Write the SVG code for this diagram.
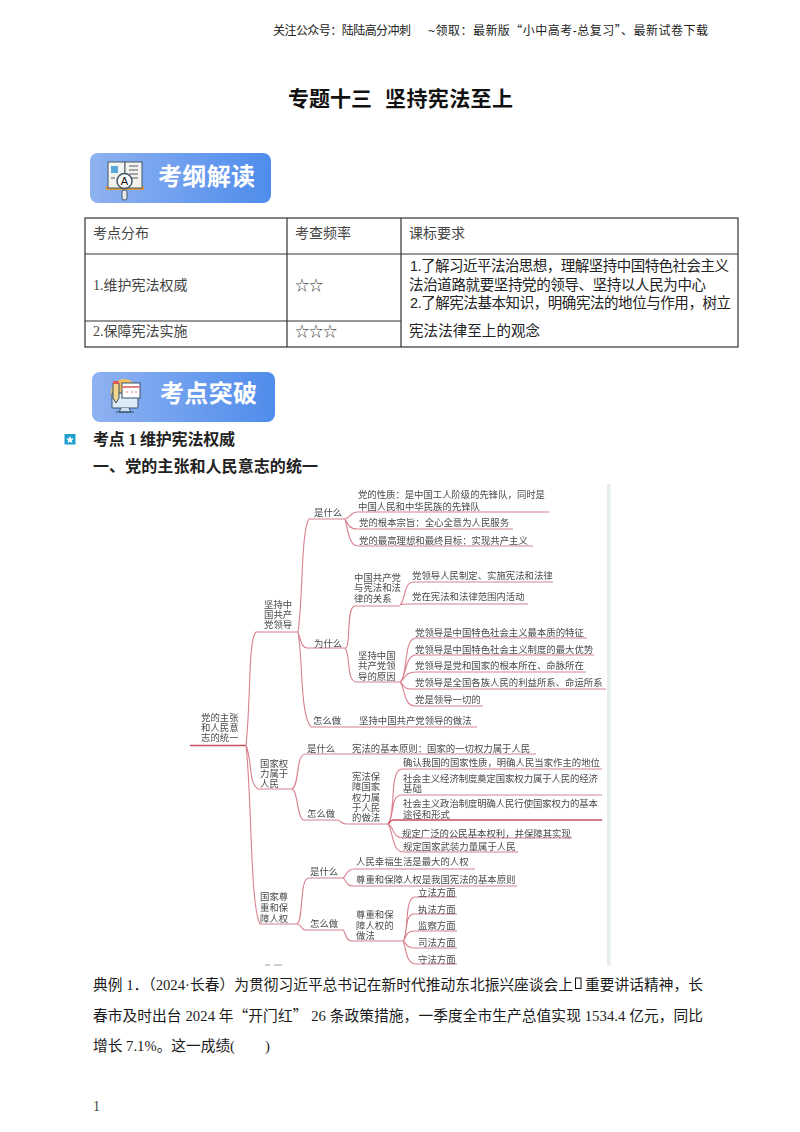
<svg xmlns="http://www.w3.org/2000/svg" width="800" height="1132" viewBox="0 0 800 1132">
<style>
text{font-family:"Liberation Serif","Noto Sans CJK SC",serif;fill:#111}
.s{font-family:"Liberation Sans","Noto Sans CJK SC",sans-serif}
.q{font-family:"Noto Sans CJK SC",sans-serif}
.hd{font-size:12px;fill:#222}
.t{font-size:14px;fill:#444}
.r{font-size:14.5px;fill:#222}
.b{font-size:14.7px;fill:#1a1a1a}
.h{font-size:16px;font-weight:700;fill:#222}
.bn{font-family:"Liberation Sans","Noto Sans CJK SC",sans-serif;font-size:24px;font-weight:700;fill:#fff}
.m{font-size:9.4px;fill:#4a4a4a}
.tb{fill:none;stroke:#333;stroke-width:1.2}
.l{fill:none;stroke:#d8808e;stroke-width:1.1}
.d{fill:none;stroke:#c8505f;stroke-width:1.3}
</style>
<defs>
<linearGradient id="g" x1="0" y1="0" x2="1" y2="0"><stop offset="0" stop-color="#8fb2f1"/><stop offset="1" stop-color="#4f8cec"/></linearGradient>
<filter id="bl" x="-2%" y="-2%" width="104%" height="104%"><feGaussianBlur stdDeviation="0.25"/></filter>
</defs>
<rect width="800" height="1132" fill="#fff"/>
<g id="header"><text class="s hd" x="273" y="35" textLength="138">关注公众号：陆陆高分冲刺</text><text class="s hd" x="428" y="35" textLength="280">~领取：最新版<tspan class="q">“</tspan>小中高考-总复习<tspan class="q">”</tspan>、最新试卷下载</text></g>
<g id="title"><text class="s" x="288" y="106" font-size="21" font-weight="700" fill="#222">专题十三</text><text class="s" x="385" y="106" font-size="21" font-weight="700" fill="#222" textLength="128">坚持宪法至上</text></g>
<g id="banner1">
<rect x="90" y="153" width="181" height="50" rx="8" fill="url(#g)"/>
<rect x="106" y="186" width="38" height="4" fill="#d99a3c"/>
<rect x="108" y="162" width="17" height="26" fill="#f4f4ee" stroke="#44566a"/>
<rect x="125" y="162" width="17" height="26" fill="#f4f4ee" stroke="#44566a"/>
<rect x="111" y="166" width="7" height="7" fill="#5aa7dc"/>
<path d="M129 166h9M129 170h9M129 174h9M129 178h9M111 178h4" stroke="#556" fill="none"/>
<rect x="122" y="190" width="5" height="10" rx="2" fill="#e8e8e8" stroke="#44566a"/>
<circle cx="124.500" cy="181" r="7.500" fill="#fff" stroke="#44566a" stroke-width="1.500"/>
<text class="s" x="124.500" y="185" font-size="11" text-anchor="middle" fill="#333">A</text>
<text class="bn" x="158" y="185" textLength="97">考纲解读</text>
</g>
<g id="table">
<rect class="tb" x="85" y="218" width="653" height="129"/>
<path class="tb" d="M287 218V347M401 218V347M85 254H738M85 321H401"/>
<text class="t" x="93" y="238">考点分布</text>
<text class="t" x="295" y="238">考查频率</text>
<text class="t" x="409" y="238">课标要求</text>
<text class="t" x="93" y="290">1.维护宪法权威</text>
<text class="t" x="295" y="290" font-family="DejaVu Sans">☆☆</text>
<text class="t" x="93" y="336">2.保障宪法实施</text>
<text class="t" x="295" y="336" font-family="DejaVu Sans">☆☆☆</text>
<text class="s r" x="410" y="271" textLength="319">1.了解习近平法治思想，理解坚持中国特色社会主义</text>
<text class="s r" x="409" y="290" textLength="297">法治道路就要坚持党的领导、坚持以人民为中心</text>
<text class="s r" x="410" y="308" textLength="321">2.了解宪法基本知识，明确宪法的地位与作用，树立</text>
<text class="s r" x="409" y="336" textLength="131">宪法法律至上的观念</text>
</g>
<g id="banner2">
<rect x="92" y="372" width="183" height="50" rx="8" fill="url(#g)"/>
<circle cx="124" cy="392" r="13" fill="#f0c060"/>
<rect x="112" y="393" width="26" height="15" rx="1" fill="#dcecf6" stroke="#34506a"/>
<path d="M121 408l-2 4h12l-2-4M116 412h18" stroke="#34506a" fill="#cfe0ee"/>
<rect x="122" y="383" width="18" height="15" fill="#fff" stroke="#34506a"/>
<path d="M122 387h18" stroke="#e08080" stroke-width="2"/>
<path d="M126 392h2M131 392h2M135 392h2" stroke="#e08080"/>
<path d="M113 383h6v15l-3 5l-3-5z" fill="#f2d48a" stroke="#34506a"/>
<rect x="113" y="381" width="6" height="3" fill="#d85a5a"/>
<text class="bn" x="160" y="402" textLength="97">考点突破</text>
</g>
<g id="headings">
<rect x="64.500" y="434" width="11" height="10.500" fill="#1f9fce"/>
<path d="M70 436l1.200 2.400 2.600.3-1.900 1.800.5 2.500-2.400-1.200-2.400 1.200.5-2.500-1.900-1.800 2.600-.3z" fill="#fff"/>
<text class="h" x="93" y="445" textLength="142">考点 1 维护宪法权威</text>
<text class="h" x="93" y="472" textLength="225">一、党的主张和人民意志的统一</text>
</g>
<rect id="strip" x="607" y="484" width="3.500" height="482" fill="#e6eeec"/>
<g id="connectors" filter="url(#bl)">
<path class="d" d="M190 745.500H246"/>
<path class="l" d="M246 745C251 700 248 640 256 632H298M246 745C253 765 248 782 258 789H292M246 745C252 800 250 905 260 924H297"/>
<path class="l" d="M298 632C303 600 301 530 309 519H345M298 632C301 642 302 648 308 648H345M298 632C303 660 300 715 311 727H477"/>
<path class="l" d="M345 519C350 518 351 512 357 512H549M345 519C348 525 350 529 357 529H513M345 519C348 530 349 546 358 546H533"/>
<path class="l" d="M345 648C351 650 346 610 354 606H400M345 648C351 655 346 680 356 682H400"/>
<path class="l" d="M400 605C406 600 403 582 414 582H553M400 605C402 604 404 604 408 604H528"/>
<path class="l" d="M400 682C408 678 403 638 416 638H587M400 682C406 678 405 655 416 655H594M400 682C405 680 404 672 416 672H586M400 682C404 684 402 689 412 689H606M400 682C405 686 403 706 415 706H483"/>
<path class="l" d="M292 789C300 785 295 754 306 754H536M292 789C298 790 297 820 304 820H338C341 821 341 824 346 824H388"/>
<path class="l" d="M388 824C396 815 389 769 402 769H602M388 824C395 815 390 795 402 795H602"/>
<path class="d" d="M388 824C391 822 389 820 394 820H602"/>
<path class="l" d="M388 824C394 826 392 838 403 838H572M388 824C393 830 392 852 403 852H518"/>
<path class="l" d="M297 924C304 920 299 878 309 878H343M297 924C303 925 300 930 306 930H343C346 932 345 941 352 941H403"/>
<path class="l" d="M343 878C346 877 346 869 354 869H475M343 878C346 879 345 886 353 886H517"/>
<path class="l" d="M403 941C409 935 404 897 415 897H457M403 941C408 936 404 914 414 914H457M403 941C407 938 405 931 414 931H457M403 941C405 941 406 948 414 948H457M403 941C406 945 405 964 416 964H457"/>
</g>
<g id="mindmap" filter="url(#bl)">
<g id="n-root"><text class="m" x="201" y="721">党的主张</text><text class="m" x="201" y="731">和人民意</text><text class="m" x="201" y="741">志的统一</text></g>
<g id="n-a"><text class="m" x="264" y="607.500">坚持中</text><text class="m" x="264" y="617.500">国共产</text><text class="m" x="264" y="627.500">党领导</text></g>
<g id="n-a1"><text class="m" x="314" y="515.500">是什么</text></g>
<g id="n-a11"><text class="m" x="358" y="497.500" textLength="187">党的性质：是中国工人阶级的先锋队，同时是</text><text class="m" x="358" y="509.500">中国人民和中华民族的先锋队</text></g>
<g id="n-a12"><text class="m" x="359" y="525.500">党的根本宗旨：全心全意为人民服务</text></g>
<g id="n-a13"><text class="m" x="359" y="543.500">党的最高理想和最终目标：实现共产主义</text></g>
<g id="n-a2"><text class="m" x="314" y="646.500">为什么</text></g>
<g id="n-a21"><text class="m" x="354" y="580.500">中国共产党</text><text class="m" x="354" y="591">与宪法和法</text><text class="m" x="354" y="601.500">律的关系</text></g>
<g id="n-a211"><text class="m" x="412" y="578.500">党领导人民制定、实施宪法和法律</text></g>
<g id="n-a212"><text class="m" x="412" y="599.500">党在宪法和法律范围内活动</text></g>
<g id="n-a22"><text class="m" x="358" y="658.500">坚持中国</text><text class="m" x="358" y="668.500">共产党领</text><text class="m" x="358" y="679.500">导的原因</text></g>
<g id="n-a221"><text class="m" x="415" y="635.500">党领导是中国特色社会主义最本质的特征</text></g>
<g id="n-a222"><text class="m" x="415" y="652.500">党领导是中国特色社会主义制度的最大优势</text></g>
<g id="n-a223"><text class="m" x="415" y="668.500">党领导是党和国家的根本所在、命脉所在</text></g>
<g id="n-a224"><text class="m" x="415" y="685.500">党领导是全国各族人民的利益所系、命运所系</text></g>
<g id="n-a225"><text class="m" x="415" y="702.500">党是领导一切的</text></g>
<g id="n-a3"><text class="m" x="313" y="723.500">怎么做</text></g>
<g id="n-a31"><text class="m" x="359" y="723.500">坚持中国共产党领导的做法</text></g>
<g id="n-b"><text class="m" x="260" y="766.500">国家权</text><text class="m" x="260" y="776.500">力属于</text><text class="m" x="260" y="786.500">人民</text></g>
<g id="n-b1"><text class="m" x="307" y="751.500">是什么</text></g>
<g id="n-b11"><text class="m" x="352" y="751.500">宪法的基本原则：国家的一切权力属于人民</text></g>
<g id="n-b2"><text class="m" x="307" y="816.500">怎么做</text></g>
<g id="n-b21"><text class="m" x="352" y="779.500">宪法保</text><text class="m" x="352" y="789.500">障国家</text><text class="m" x="352" y="800.500">权力属</text><text class="m" x="352" y="810.500">于人民</text><text class="m" x="352" y="820.500">的做法</text></g>
<g id="n-b211"><text class="m" x="403" y="765.500">确认我国的国家性质，明确人民当家作主的地位</text></g>
<g id="n-b212"><text class="m" x="403" y="781.500" textLength="195">社会主义经济制度奠定国家权力属于人民的经济</text><text class="m" x="403" y="791.500">基础</text></g>
<g id="n-b213"><text class="m" x="403" y="806.500" textLength="195">社会主义政治制度明确人民行使国家权力的基本</text><text class="m" x="403" y="817.500">途径和形式</text></g>
<g id="n-b214"><text class="m" x="402" y="836.500">规定广泛的公民基本权利，并保障其实现</text></g>
<g id="n-b215"><text class="m" x="403" y="849.500">规定国家武装力量属于人民</text></g>
<g id="n-c"><text class="m" x="260" y="899.500">国家尊</text><text class="m" x="260" y="910.500">重和保</text><text class="m" x="260" y="921.500">障人权</text></g>
<g id="n-c1"><text class="m" x="310" y="874.500">是什么</text></g>
<g id="n-c11"><text class="m" x="356" y="864.500">人民幸福生活是最大的人权</text></g>
<g id="n-c12"><text class="m" x="356" y="882.500">尊重和保障人权是我国宪法的基本原则</text></g>
<g id="n-c2"><text class="m" x="310" y="926.500">怎么做</text></g>
<g id="n-c21"><text class="m" x="356" y="917.500">尊重和保</text><text class="m" x="356" y="928.500">障人权的</text><text class="m" x="356" y="938.500">做法</text></g>
<g id="n-c211"><text class="m" x="418" y="895.500">立法方面</text></g>
<g id="n-c212"><text class="m" x="418" y="912.500">执法方面</text></g>
<g id="n-c213"><text class="m" x="418" y="928.500">监察方面</text></g>
<g id="n-c214"><text class="m" x="418" y="945.500">司法方面</text></g>
<g id="n-c215"><text class="m" x="418" y="962.500">守法方面</text></g>
<path d="M265 965h5M274 965h8" stroke="#999" stroke-width="1.200"/>
</g>
<g id="body">
<text class="b" x="93" y="990" textLength="480">典例 1．（2024·长春）为贯彻习近平总书记在新时代推动东北振兴座谈会上</text>
<rect x="575.500" y="978" width="5.500" height="10.500" fill="#fff" stroke="#111" stroke-width="1"/>
<text class="b" x="585" y="990" textLength="118">重要讲话精神，长</text>
<text class="b" x="93" y="1021" textLength="610">春市及时出台 2024 年<tspan class="q">“</tspan>开门红<tspan class="q">”</tspan> 26 条政策措施，一季度全市生产总值实现 1534.4 亿元，同比</text>
<text class="b" x="93" y="1051">增长 7.1%。这一成绩(<tspan dx="30">)</tspan></text>
<text class="t" x="93" y="1111" fill="#222">1</text>
</g>
</svg>
